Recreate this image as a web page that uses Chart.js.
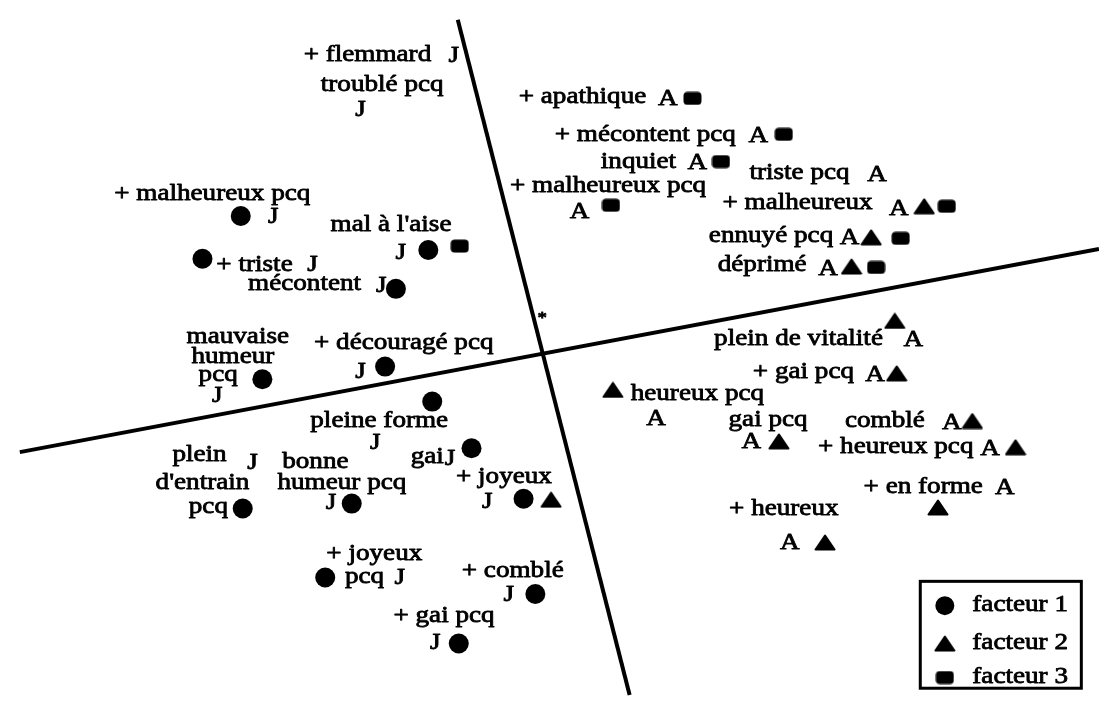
<!DOCTYPE html>
<html lang="fr">
<head>
<meta charset="utf-8">
<title>Facteurs</title>
<script src="https://cdn.jsdelivr.net/npm/chart.js@4/dist/chart.umd.min.js"></script>
<style>
  html, body { margin: 0; padding: 0; background: #fff; }
  .contenitore { width: 1109px; height: 706px; position: relative; }
  .precarica { position: absolute; left: -9999px; top: 0; font-family: "Liberation Serif"; font-size: 23px; }
</style>
</head>
<body>
<div class="contenitore"><canvas id="grafico"></canvas></div>
<span class="precarica">facteur éà</span>
<script>
// coordonnées (x vers la droite, y vers le bas)
const facteur1X = [235, 426, 196, 393, 257, 382, 430, 237, 348, 470, 523, 321, 535, 457];
const facteur1Y = [212, 247, 256, 287, 380, 367, 403, 513, 508, 451, 503, 584, 601, 652];

const facteur2X = [551, 931, 877, 857, 901, 903, 614, 783, 980, 1024, 945, 830];
const facteur2Y = [504, 202, 234, 264, 320, 374, 391, 444, 423, 450, 512, 548];

const facteur3X = [695, 788, 724, 612, 954, 907, 882, 458];
const facteur3Y = [91, 128, 156, 201, 202, 235, 265, 243];

const axe1X = [456, 631];
const axe1Y = [10, 705];
const axe2X = [10, 1109];
const axe2Y = [455, 246];

const etiquettes = [
    "+ flemmard", "J", "troublé pcq", "J",
    "+ malheureux pcq", "J", "mal à l'aise", "J",
    "+ triste", "J", "mécontent", "J",
    "mauvaise", "humeur", "pcq", "J",
    "+ découragé pcq", "J", "pleine forme", "J",
    "plein", "J", "d'entrain", "pcq",
    "bonne", "humeur pcq", "J", "gai", "J",
    "+ joyeux", "J", "+ joyeux", "pcq", "J",
    "+ comblé", "J", "+ gai pcq", "J",
    "+ apathique", "A", "+ mécontent pcq", "A",
    "inquiet", "A", "triste pcq", "A",
    "+ malheureux pcq", "A", "+ malheureux", "A",
    "ennuyé pcq", "A", "déprimé", "A",
    "plein de vitalité", "A", "+ gai pcq", "A",
    "heureux pcq", "A", "gai pcq", "A",
    "comblé", "A", "+ heureux pcq", "A",
    "+ en forme", "A", "+ heureux", "A", "*"
];
const etiquettesX = [
    364, 452, 379, 357,
    206, 268, 388, 398,
    249, 308, 300, 378,
    232, 227, 212, 211,
    401, 357, 376, 372,
    193, 247, 196, 202,
    311, 338, 327, 425, 448,
    503, 486, 371, 361, 397,
    512, 508, 442, 433,
    583, 670, 647, 762,
    640, 700, 804, 883,
    609, 580, 802, 905,
    775, 855, 766, 833,
    803, 920, 808, 881,
    700, 658, 772, 755,
    891, 959, 902, 998,
    930, 1013, 788, 794, 542
];
const etiquettesY = [
    46, 47, 77, 103,
    189, 213, 221, 250,
    262, 262, 282, 284,
    336, 357, 376, 397,
    343, 373, 423, 446,
    458, 466, 487, 511,
    465, 487, 507, 460, 462,
    481, 506, 560, 583, 584,
    577, 602, 624, 651,
    90, 92, 129, 130,
    156, 157, 168, 170,
    181, 208, 199, 205,
    233, 235, 262, 266,
    339, 340, 372, 376,
    395, 421, 422, 445,
    423, 425, 450, 452,
    491, 492, 513, 548, 318
];

const legendeTextes = ["facteur 1", "facteur 2", "facteur 3"];

function punti(xs, ys) {
    return xs.map((x, i) => ({ x: x, y: ys[i] }));
}

function creaTriangolo() {
    const c = document.createElement('canvas');
    c.width = 22; c.height = 17;
    const ctx = c.getContext('2d');
    ctx.fillStyle = '#000';
    ctx.strokeStyle = '#000';
    ctx.lineJoin = 'round';
    ctx.lineWidth = 2;
    ctx.beginPath();
    ctx.moveTo(11, 1.5);
    ctx.lineTo(20.5, 15.5);
    ctx.lineTo(1.5, 15.5);
    ctx.closePath();
    ctx.fill();
    ctx.stroke();
    return c;
}

function creaQuadrato() {
    const c = document.createElement('canvas');
    c.width = 19; c.height = 14;
    const ctx = c.getContext('2d');
    ctx.fillStyle = '#000';
    ctx.beginPath();
    ctx.roundRect(0.5, 0.5, 18, 13, 4);
    ctx.fill();
    return c;
}

const triangolo = creaTriangolo();
const quadrato = creaQuadrato();
const carattere = '"Liberation Serif", "Times New Roman", Times, serif';

function scriviTesto(ctx, testo, x, y, dimensione, allinea) {
    ctx.save();
    ctx.translate(x, y);
    ctx.scale(1.18, 1);
    ctx.font = dimensione + 'px ' + carattere;
    ctx.textAlign = allinea || 'center';
    ctx.textBaseline = 'middle';
    ctx.fillStyle = '#000';
    ctx.strokeStyle = '#000';
    ctx.lineWidth = 0.8;
    ctx.lineJoin = 'round';
    ctx.fillText(testo, 0, 0);
    ctx.strokeText(testo, 0, 0);
    ctx.restore();
}

const pluginTesti = {
    id: 'testi',
    afterDatasetsDraw(chart) {
        const ctx = chart.ctx;
        const sx = chart.scales.x;
        const sy = chart.scales.y;

        etiquettes.forEach((t, i) => {
            const px = sx.getPixelForValue(etiquettesX[i]);
            const py = sy.getPixelForValue(etiquettesY[i]);
            scriviTesto(ctx, t, px, py, t === '*' ? 16 : 23);
        });

        // legende encadrée en bas à droite
        const x0 = sx.getPixelForValue(927);
        const y0 = sy.getPixelForValue(588);
        const x1 = sx.getPixelForValue(1091);
        const y1 = sy.getPixelForValue(698);
        ctx.save();
        ctx.lineWidth = 3;
        ctx.strokeStyle = '#000';
        ctx.strokeRect(x0, y0, x1 - x0, y1 - y0);
        const righe = [613, 652, 687];
        const mx = sx.getPixelForValue(952);
        righe.forEach((r, i) => {
            const py = sy.getPixelForValue(r);
            if (i === 0) {
                ctx.fillStyle = '#000';
                ctx.beginPath();
                ctx.arc(mx, py, 9.5, 0, Math.PI * 2);
                ctx.fill();
            } else {
                const img = i === 1 ? triangolo : quadrato;
                ctx.drawImage(img, mx - img.width / 2, py - img.height / 2);
            }
            scriviTesto(ctx, legendeTextes[i], sx.getPixelForValue(980), py - 1, 23, 'left');
        });
        ctx.restore();
    }
};

const config = {
    type: 'scatter',
    data: {
        datasets: [
            {
                type: 'line',
                label: 'axe 1',
                data: punti(axe1X, axe1Y),
                borderColor: '#000',
                borderWidth: 4,
                pointRadius: 0,
                showLine: true,
                order: 5
            },
            {
                type: 'line',
                label: 'axe 2',
                data: punti(axe2X, axe2Y),
                borderColor: '#000',
                borderWidth: 4,
                pointRadius: 0,
                showLine: true,
                order: 5
            },
            {
                label: 'facteur 1',
                data: punti(facteur1X, facteur1Y),
                pointStyle: 'circle',
                pointRadius: 10,
                backgroundColor: '#000',
                borderColor: '#000',
                borderWidth: 0,
                order: 1
            },
            {
                label: 'facteur 2',
                data: punti(facteur2X, facteur2Y),
                pointStyle: triangolo,
                order: 1
            },
            {
                label: 'facteur 3',
                data: punti(facteur3X, facteur3Y),
                pointStyle: quadrato,
                order: 1
            }
        ]
    },
    options: {
        responsive: true,
        maintainAspectRatio: false,
        animation: false,
        layout: { padding: 0 },
        plugins: {
            legend: { display: false },
            tooltip: { enabled: false },
            title: { display: false }
        },
        scales: {
            x: { type: 'linear', min: 0, max: 1109, display: false },
            y: { type: 'linear', min: 0, max: 706, reverse: true, display: false }
        }
    },
    plugins: [pluginTesti]
};

function disegnaGrafico() {
    const canvasElement = document.getElementById('grafico');
    if (canvasElement) {
        new Chart(canvasElement.getContext('2d'), config);
    }
}

if (document.fonts && document.fonts.load) {
    document.fonts.load('23px "Liberation Serif"').then(disegnaGrafico, disegnaGrafico);
} else {
    disegnaGrafico();
}
</script>
</body>
</html>
